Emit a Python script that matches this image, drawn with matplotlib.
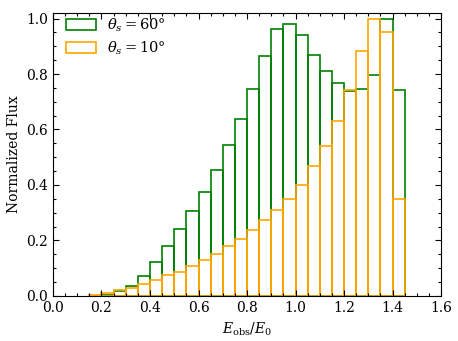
import numpy as np
import matplotlib
matplotlib.use('Agg')
import matplotlib.pyplot as plt
from matplotlib.ticker import MultipleLocator

plt.rcParams['font.family'] = 'DejaVu Serif'
plt.rcParams['mathtext.fontset'] = 'dejavuserif'

# bordas esquerdas dos bins (largura 0.05)
bin_left = [0.15, 0.20, 0.25, 0.30, 0.35, 0.40, 0.45, 0.50, 0.55, 0.60, 0.65,
            0.70, 0.75, 0.80, 0.85, 0.90, 0.95, 1.00, 1.05, 1.10, 1.15, 1.20,
            1.25, 1.30, 1.35, 1.40]
bin_width = 0.05

flux_60 = [0.0, 0.005, 0.017, 0.037, 0.073, 0.122, 0.180, 0.242, 0.307, 0.376,
           0.455, 0.543, 0.638, 0.746, 0.866, 0.963, 0.979, 0.939, 0.869,
           0.811, 0.767, 0.740, 0.746, 0.797, 1.000, 0.741]
flux_10 = [0.003, 0.010, 0.020, 0.030, 0.044, 0.059, 0.074, 0.088, 0.108, 0.128,
           0.151, 0.180, 0.207, 0.237, 0.273, 0.309, 0.351, 0.401, 0.467,
           0.539, 0.629, 0.743, 0.883, 1.000, 0.953, 0.351]

fig = plt.figure(figsize=(4.58, 3.41), dpi=100)
ax = fig.add_axes([0.1157, 0.132, 0.963 - 0.1157, 0.962 - 0.132])

ax.bar(bin_left, flux_60, width=bin_width, align='edge', fill=False,
       edgecolor='green', linewidth=1.2, label=r'$\theta_s = 60°$')
ax.bar(bin_left, flux_10, width=bin_width, align='edge', fill=False,
       edgecolor='orange', linewidth=1.2, label=r'$\theta_s = 10°$')

ax.set_xlim(0, 1.6)
ax.set_ylim(0, 1.02)
ax.xaxis.set_major_locator(MultipleLocator(0.2))
ax.xaxis.set_minor_locator(MultipleLocator(0.05))
ax.yaxis.set_major_locator(MultipleLocator(0.2))
ax.yaxis.set_minor_locator(MultipleLocator(0.05))
ax.tick_params(which='both', direction='in', top=True, right=True, labelsize=10)
ax.tick_params(which='major', length=4, width=0.8)
ax.tick_params(which='minor', length=2, width=0.8)

ax.set_xlabel(r'$E_{\rm obs}/E_0$', fontsize=10)
ax.set_ylabel('Normalized Flux', fontsize=10)
ax.legend(loc='upper left', bbox_to_anchor=(0.0155, 1.011), frameon=False,
          fontsize=10.5, handlelength=2.1, handleheight=0.72, labelspacing=0.4,
          handletextpad=0.75, borderaxespad=0.1, borderpad=0.35)

fig.savefig('out.png', dpi=100)
